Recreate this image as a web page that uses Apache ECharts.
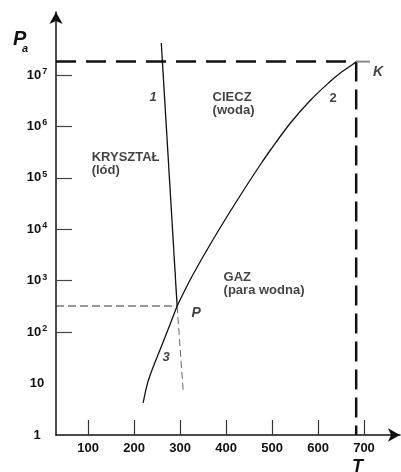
<!DOCTYPE html>
<html><head><meta charset="utf-8">
<script src="https://cdn.jsdelivr.net/npm/echarts@6/dist/echarts.min.js"></script>
<style>html,body{margin:0;padding:0;background:#fff}#c{width:401px;height:472px}</style>
</head><body><div id="c"></div>
<script>
// ---- data (T in K, P in Pa) ----
const xTickValues = [100, 200, 300, 400, 500, 600, 700];
const yLabelDecades = [0, 1, 2, 3, 4, 5, 6, 7];
const yTickDecades = [2, 3, 4, 5, 6, 7];

// curve 3: sublimation (kryształ - gaz)
const sublimationT = [219.6, 229.3, 241.3, 258.7, 279.3, 293.5];
const sublimationP = [4.2, 10.3, 21, 51.4, 151, 322];
// curve 2: vaporization (ciecz - gaz)
const vaporT = [293.5, 321.7, 358.3, 397.4, 442.6, 477.0, 496.5, 540.0, 583.9, 622.8, 651.1, 675.0, 683];
const vaporP = [322, 1033, 3955, 15150, 66400, 194500, 348000, 1.165e6, 3.26e6, 6.99e6, 1.14e7, 1.60e7, 1.78e7];
// curve 1: melting (kryształ - ciecz)
const meltT = [259, 293.5];
const meltP = [4.2e7, 322];
// metastable continuation of curve 1 (dashed)
const meltDashT = [293.5, 306.5];
const meltDashP = [322, 7.5];
// triple point P and critical point K
const tripleT = 293.5, tripleP = 322;
const critT = 683, critP = 1.82e7;
const critStubT = 713;

const xMin = 30, xMax = 778.3;
const yMaxDecade = 8.225;

// annotations
const annText = ['CIECZ\n(woda)', 'KRYSZTAŁ\n(lód)', 'GAZ\n(para wodna)', '1', '2', '3', 'P', 'K'];
const annT = [369.6, 106.5, 393.5, 241.3, 632.6, 269.6, 334.8, 730.4];
const annP = [2.7e6, 1.9e5, 883, 3.73e6, 3.57e6, 32.9, 236, 1.14e7];
const annKind = ['region', 'region', 'region', 'numI', 'num', 'numI', 'pt', 'pt'];

// ---- build ----
const lg = v => Math.log10(v);
const pts = (ts, ps) => ts.map((t, i) => [t, lg(ps[i])]);
const FONT = '"Liberation Sans", Arial, sans-serif';

const kindStyle = {
  region: {fontSize: 13, fontWeight: 'bold', fontStyle: 'normal', lineHeight: 13, position: 'right', align: 'left'},
  num: {fontSize: 13, fontWeight: 'bold', fontStyle: 'normal', lineHeight: 14, position: 'inside', align: 'center'},
  numI: {fontSize: 13, fontWeight: 'bold', fontStyle: 'italic', lineHeight: 14, position: 'inside', align: 'center'},
  pt: {fontSize: 14, fontWeight: 'bold', fontStyle: 'italic', lineHeight: 14, position: 'inside', align: 'center'}
};

const annData = annText.map((txt, i) => {
  const s = kindStyle[annKind[i]];
  return {
    value: [annT[i], lg(annP[i])],
    name: txt,
    label: {show: true, formatter: txt, position: s.position, distance: 0,
      fontSize: s.fontSize, fontWeight: s.fontWeight, fontStyle: s.fontStyle,
      lineHeight: s.lineHeight, align: s.align, color: '#111', fontFamily: FONT}
  };
});

const chart = echarts.init(document.getElementById('c'), null, {renderer: 'canvas'});
chart.setOption({
  animation: false,
  backgroundColor: '#fff',
  grid: {left: 56, right: 1, top: 12, bottom: 37},
  xAxis: {
    type: 'value', min: xMin, max: xMax,
    axisLine: {show: true, symbol: ['none', 'arrow'], symbolSize: [10, 12], lineStyle: {color: '#111', width: 1.5}},
    axisTick: {show: true, inside: true, length: 15, customValues: xTickValues, lineStyle: {color: '#333', width: 1.2}},
    axisLabel: {show: true, customValues: xTickValues, margin: 7, fontSize: 13, fontWeight: 'bold', color: '#111', fontFamily: FONT},
    splitLine: {show: false}
  },
  yAxis: {
    type: 'value', min: 0, max: yMaxDecade,
    axisLine: {show: true, symbol: ['none', 'arrow'], symbolSize: [10, 12], lineStyle: {color: '#111', width: 1.5}},
    axisTick: {show: true, inside: true, length: 16, customValues: yTickDecades, lineStyle: {color: '#444', width: 1.2}},
    axisLabel: {
      show: true, customValues: yLabelDecades, margin: 19, align: 'center',
      formatter: v => {
        const n = Math.round(v);
        if (n === 0) return '{b|1}';
        if (n === 1) return '{b|10}';
        return '{b|10}{s|' + n + '}';
      },
      rich: {
        b: {fontSize: 13, fontWeight: 'bold', color: '#111', fontFamily: FONT, lineHeight: 16},
        s: {fontSize: 9, fontWeight: 'bold', color: '#111', fontFamily: FONT, lineHeight: 9, verticalAlign: 'top', padding: [0, 0, 0, 1]}
      }
    },
    splitLine: {show: false}
  },
  graphic: [
    {type: 'text', left: 13, top: 29, style: {text: 'P', font: 'italic bold 20px ' + FONT, fill: '#111'}},
    {type: 'text', left: 22, top: 43, style: {text: 'a', font: 'italic bold 11px ' + FONT, fill: '#111'}},
    {type: 'text', left: 352, top: 458, style: {text: 'T', font: 'italic bold 18px ' + FONT, fill: '#111'}}
  ],
  series: [
    {type: 'line', data: [[xMin, lg(critP)], [critT, lg(critP)]], symbol: 'none', silent: true,
      lineStyle: {color: '#111', width: 2.5, type: [20, 10]}},
    {type: 'line', data: [[critT, lg(critP)], [critT, 0]], symbol: 'none', silent: true,
      lineStyle: {color: '#111', width: 2.5, type: [20, 8]}},
    {type: 'line', data: [[critT, lg(critP)], [critStubT, lg(critP)]], symbol: 'none', silent: true,
      lineStyle: {color: '#888', width: 2}},
    {type: 'line', data: [[xMin, lg(tripleP)], [tripleT, lg(tripleP)]], symbol: 'none', silent: true,
      lineStyle: {color: '#333', width: 1, type: [8, 4]}},
    {type: 'line', data: pts(meltDashT, meltDashP), symbol: 'none', silent: true,
      lineStyle: {color: '#666', width: 1, type: [7, 4]}},
    {type: 'line', data: pts(meltT, meltP), symbol: 'none', silent: true,
      lineStyle: {color: '#111', width: 1.3}},
    {type: 'line', data: pts(sublimationT, sublimationP), symbol: 'none', smooth: 0.35, silent: true,
      lineStyle: {color: '#111', width: 1.3}},
    {type: 'line', data: pts(vaporT, vaporP), symbol: 'none', smooth: 0.35, silent: true,
      lineStyle: {color: '#111', width: 1.3}},
    {type: 'scatter', data: annData, symbolSize: 1, itemStyle: {color: 'rgba(0,0,0,0)'}, silent: true}
  ]
});
</script>
</body></html>
